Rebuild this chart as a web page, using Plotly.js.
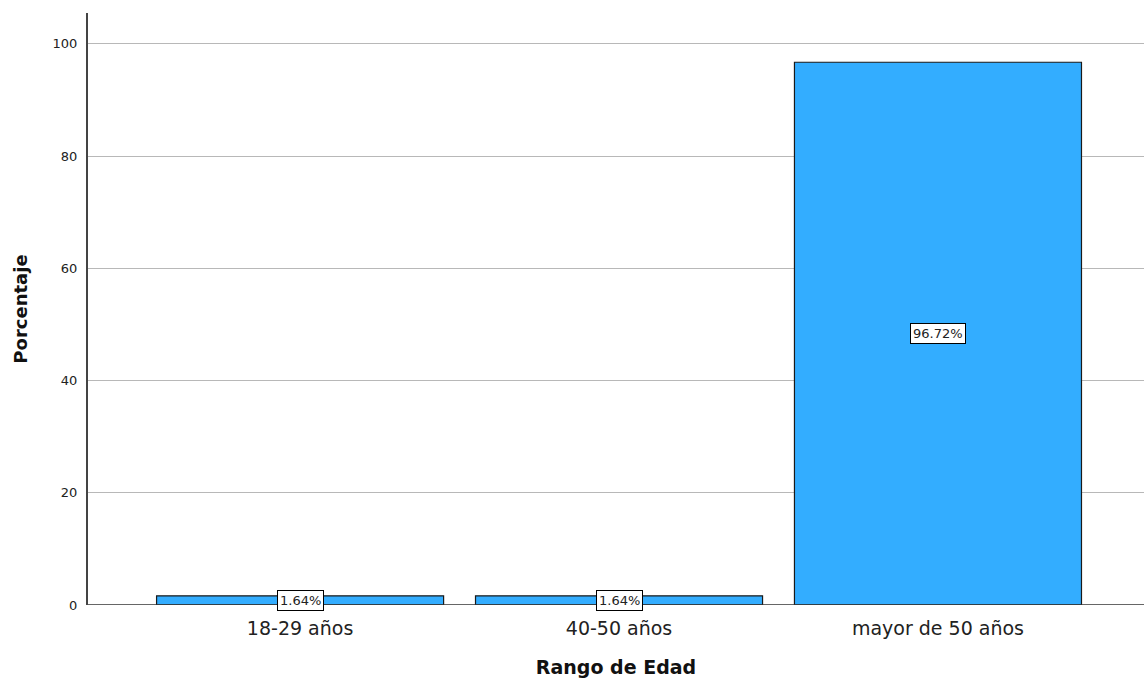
<!DOCTYPE html>
<html>
<head>
<meta charset="utf-8">
<script src="https://cdn.plot.ly/plotly-3.0.1.min.js"></script>
<style>html,body{margin:0;padding:0;background:#fff;}#chart{width:1144px;height:685px;}</style>
</head>
<body>
<div id="chart"></div>
<script>
const categories = ["18-29 años", "40-50 años", "mayor de 50 años"];
const percentages = [1.64, 1.64, 96.72];
const valueLabels = ["1.64%", "1.64%", "96.72%"];
const xTitle = "Rango de Edad";
const yTitle = "Porcentaje";
const yTicks = [0, 20, 40, 60, 80, 100];

const idx = categories.map((c, i) => i);

const trace = {
  type: "bar",
  x: idx,
  y: percentages,
  width: 0.9,
  marker: { color: "#33adff", line: { color: "#1a1a1a", width: 1.2 } },
  hoverinfo: "skip"
};

const annotations = idx.map((i) => ({
  x: i,
  y: percentages[i] / 2,
  xref: "x",
  yref: "y",
  text: valueLabels[i],
  showarrow: false,
  bgcolor: "#ffffff",
  bordercolor: "#000000",
  borderwidth: 1,
  borderpad: 2,
  font: { family: "DejaVu Sans", size: 13, color: "#222" }
}));

const layout = {
  width: 1144,
  height: 685,
  margin: { l: 88, r: 0, t: 13, b: 80 },
  paper_bgcolor: "#ffffff",
  plot_bgcolor: "#ffffff",
  showlegend: false,
  bargap: 0.1,
  xaxis: {
    range: [-0.665, 2.646],
    tickmode: "array",
    tickvals: idx,
    ticktext: categories,
    ticks: "",
    showgrid: false,
    zeroline: false,
    showline: false,
    ticklabelstandoff: 10,
    tickfont: { family: "DejaVu Sans", size: 19, color: "#222" },
    title: { text: xTitle, font: { family: "DejaVu Sans", size: 19, color: "#111", weight: "bold" }, standoff: 22 }
  },
  yaxis: {
    range: [0, 105.5],
    tickmode: "array",
    tickvals: yTicks,
    ticks: "",
    showgrid: true,
    gridcolor: "#b8b8b8",
    gridwidth: 1,
    zeroline: false,
    showline: true,
    linecolor: "#444",
    linewidth: 2,
    ticklabelstandoff: 6,
    tickfont: { family: "DejaVu Sans", size: 13, color: "#222" },
    title: { text: yTitle, font: { family: "DejaVu Sans", size: 18, color: "#111", weight: "bold" }, standoff: 20 }
  },
  shapes: [{
    type: "line", xref: "paper", yref: "y", x0: 0, x1: 1, y0: 0, y1: 0,
    line: { color: "#333", width: 1.5 }, layer: "above"
  }],
  annotations: annotations
};

Plotly.newPlot("chart", [trace], layout, { displayModeBar: false, staticPlot: true });
</script>
</body>
</html>
